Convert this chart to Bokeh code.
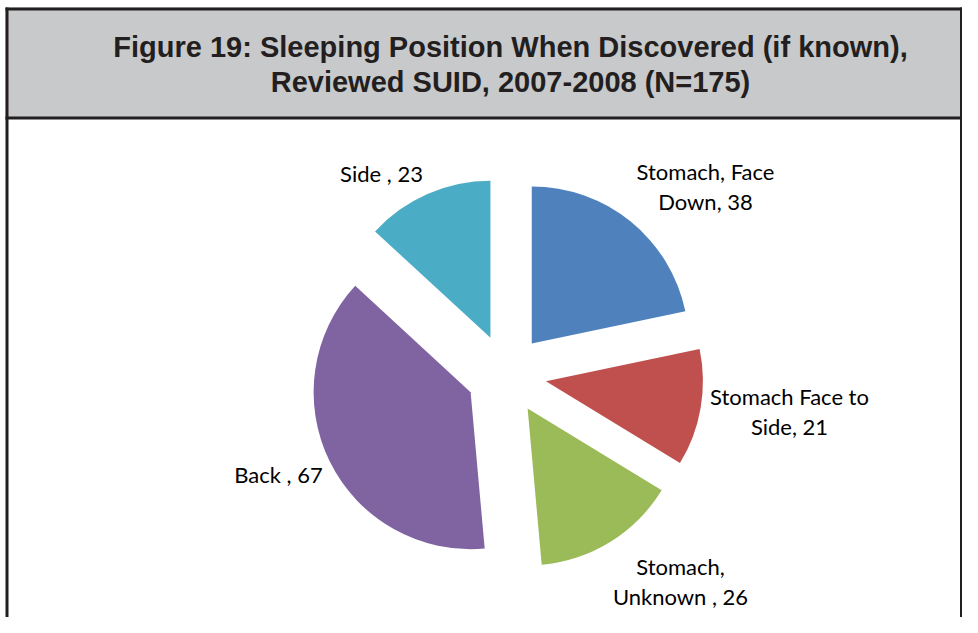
import math
from bokeh.plotting import figure
from bokeh.models import Range1d, ColumnDataSource
from bokeh.core.properties import value
from bokeh.embed import file_html
from bokeh.resources import INLINE

# ---- data ----
categories = ["Stomach, Face Down", "Stomach Face to Side", "Stomach, Unknown", "Back", "Side"]
counts = [38, 21, 26, 67, 23]
label_lines = [["Stomach, Face", "Down, 38"], ["Stomach Face to", "Side, 21"],
               ["Stomach,", "Unknown , 26"], ["Back , 67"], ["Side , 23"]]
colors = ["#4F81BD", "#C0504D", "#9BBB59", "#8064A2", "#4BACC6"]
title_lines = ["Figure 19: Sleeping Position When Discovered (if known),",
               "Reviewed SUID, 2007-2008 (N=175)"]

# ---- layout (screen-pixel helpers) ----
W, H = 962, 617
def sx(x): return x
def sy(y): return H - y

cx, cy = sx(506), sy(374)
R = 157
EXPLODE = 40
# label centre offsets from pie centre (pixels, screen-y downward)
label_offsets = [(199, -188), (283, 37), (174, 207), (-228, 100), (-125, -201)]
LINE_H = 30

p = figure(width=W, height=H, output_backend="svg", toolbar_location=None,
           x_range=Range1d(0, W), y_range=Range1d(0, H), min_border=0)
p.axis.visible = False
p.grid.visible = False
p.outline_line_color = None
p.background_fill_color = "white"

# frame
dark = "#231F20"
p.quad(left=[sx(5)], right=[sx(962)], top=[sy(7)], bottom=[sy(118)],
       fill_color="#C8C9CB", line_color=None)
p.quad(left=[sx(5)], right=[sx(962)], top=[sy(7)], bottom=[sy(10)], fill_color=dark, line_color=None)
p.quad(left=[sx(5)], right=[sx(962)], top=[sy(116)], bottom=[sy(119)], fill_color=dark, line_color=None)
p.quad(left=[sx(5)], right=[sx(8)], top=[sy(7)], bottom=[sy(640)], fill_color=dark, line_color=None)
p.quad(left=[sx(959.5)], right=[sx(962)], top=[sy(7)], bottom=[sy(640)], fill_color=dark, line_color=None)

# title
p.text(x=[sx(510), sx(510)], y=[sy(46), sy(81)], text=title_lines,
       text_font=value("Liberation Sans"), text_font_style="bold",
       text_font_size="29px", text_color=dark, text_align="center",
       text_baseline="middle")

# pie
total = sum(counts)
xs, ys, starts, ends = [], [], [], []
lx, ly, lt = [], [], []
cum = 0
for i, c in enumerate(counts):
    a0 = cum / total * 2 * math.pi
    cum += c
    a1 = cum / total * 2 * math.pi
    mid = (a0 + a1) / 2
    xs.append(cx + EXPLODE * math.sin(mid))
    ys.append(cy + EXPLODE * math.cos(mid))
    starts.append(math.pi / 2 - a1)
    ends.append(math.pi / 2 - a0)
    ox, oy = label_offsets[i]
    lines = label_lines[i]
    n = len(lines)
    for j, t in enumerate(lines):
        lx.append(cx + ox)
        ly.append(cy - oy - (j - (n - 1) / 2) * LINE_H)
        lt.append(t)

src = ColumnDataSource(dict(x=xs, y=ys, start=starts, end=ends, color=colors, cat=categories))
p.wedge(x="x", y="y", radius=R, start_angle="start", end_angle="end",
        fill_color="color", line_color=None, source=src)

p.text(x=lx, y=ly, text=lt, text_font=value("Lato"), text_font_size="22px",
       text_color="#000000", text_align="center", text_baseline="middle")

open("out.html", "w").write(file_html(p, INLINE))
